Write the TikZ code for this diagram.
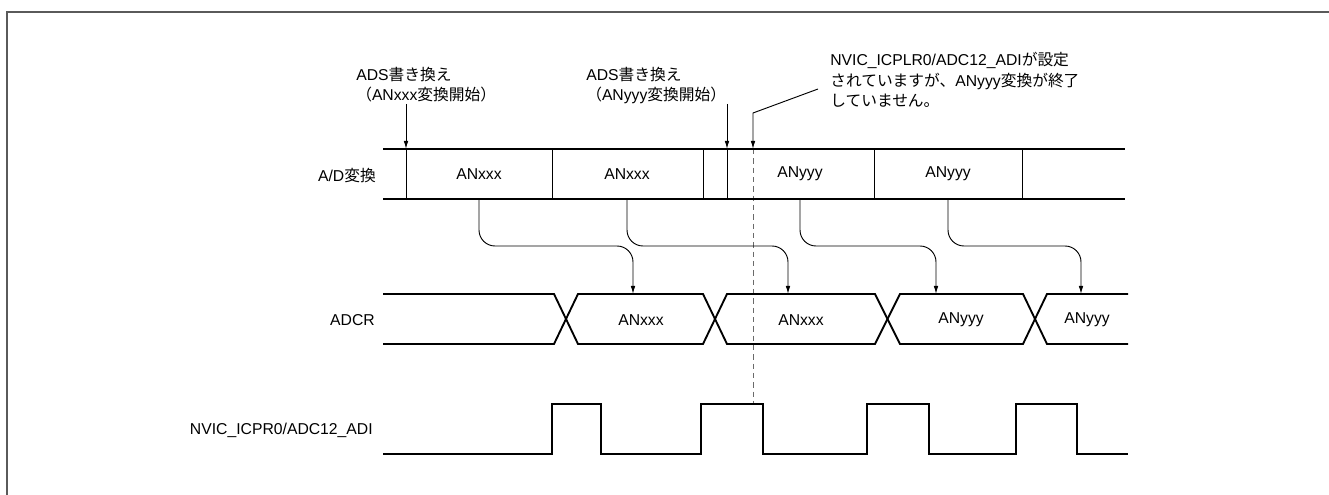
\documentclass[tikz,border=0pt]{standalone}
\usepackage{fontspec}
\setmainfont{Liberation Sans}
\newfontfamily\jpfont{Noto Sans CJK JP}
\newcommand{\jtext}[1]{{\jpfont #1}}
\usetikzlibrary{arrows.meta}
\definecolor{FrameGray}{HTML}{5A5A5A}
\definecolor{DashGray}{HTML}{6A6A6A}
\tikzset{
  row line/.style={line width=1.5pt,draw=black},
  cell sep/.style={line width=.75pt,draw=black},
  sig line/.style={line width=1.4pt,draw=black,line join=miter},
  note arrow/.style={-{Latex[length=6pt,width=3.4pt]},line width=.7pt,draw=black},
  flow arrow/.style={note arrow,rounded corners=12pt},
  mark line/.style={line width=.75pt,draw=DashGray,dash pattern=on 4pt off 3pt},
  row label/.style={anchor=east,inner sep=0pt,font=\fontsize{11.8pt}{15.4pt}\selectfont},
  cell label/.style={inner sep=0pt,font=\fontsize{11.8pt}{15.4pt}\selectfont},
  note text/.style={anchor=base west,align=left,inner sep=0pt,
    font=\fontsize{11.8pt}{15.4pt}\selectfont}
}
\begin{document}
\begin{tikzpicture}[x=.75pt,y=-.75pt]
  \useasboundingbox (0,0) rectangle (1329,495);
  % outer frame
  \draw[line width=1.5pt,draw=FrameGray] (7,495) -- (7,12) -- (1329,12);

  % row labels
  \node[row label] (lbl ad) at (376,176) {A/D\jtext{変換}};
  \node[row label] (lbl cr) at (375,320) {ADCR};
  \node[row label] (lbl nv) at (373,430) {NVIC\_ICPR0/ADC12\_ADI};

  % marker through all rows
  \coordinate (note3 tip) at (753,149);
  \coordinate (nv mark) at (753,404);
  \draw[mark line] (note3 tip) -- (nv mark);

  % A/D conversion row
  \draw[row line] (383,149) -- (1125,149);
  \draw[row line] (383,199) -- (1125,199);
  \foreach \x in {406,552,703,727,874,1022}
    \draw[cell sep] (\x,149) -- (\x,199);
  \node[cell label] (ad1) at (479,174) {ANxxx};
  \node[cell label] (ad2) at (627,174) {ANxxx};
  \node[cell label] (ad3) at (800,174) {ANyyy};
  \node[cell label] (ad4) at (948,174) {ANyyy};

  % ADCR row
  \draw[sig line] (383,294) -- (554,294) -- (578,344) -- (703,344) -- (727,294)
    -- (875,294) -- (900,344) -- (1023,344) -- (1047,294) -- (1128,294);
  \draw[sig line] (383,344) -- (554,344) -- (578,294) -- (703,294) -- (727,344)
    -- (875,344) -- (900,294) -- (1023,294) -- (1047,344) -- (1128,344);
  \node[cell label] (cr1) at (641,320) {ANxxx};
  \node[cell label] (cr2) at (801,320) {ANxxx};
  \node[cell label] (cr3) at (961,320) {ANyyy};
  \node[cell label] (cr4) at (1087,320) {ANyyy};

  % interrupt flag row
  \draw[sig line] (383,454)
    \foreach \a/\b in {552/601,701/763,867/929,1016/1077}
      { -- (\a,454) -- (\a,404) -- (\b,404) -- (\b,454) }
    -- (1128,454);

  % results moved into ADCR
  \foreach \i/\xa/\xb in {1/479/633,2/627/788,3/800/936,4/948/1081} {
    \coordinate (ad\i out) at (\xa,199);
    \coordinate (cr\i in) at (\xb,294);
    \draw[flow arrow] (ad\i out) -- ++(0,47) -| (cr\i in);
  }

  % notes (base = last line)
  \node[note text] (note1) at (356,101)
    {ADS\jtext{書き換え}\\\jtext{（}ANxxx\jtext{変換開始）}};
  \node[note text] (note2) at (586,101)
    {ADS\jtext{書き換え}\\\jtext{（}ANyyy\jtext{変換開始）}};
  \node[note text] (note3) at (830,107)
    {NVIC\_ICPLR0/ADC12\_ADI\jtext{が設定}\\
     \jtext{されていますが、}ANyyy\jtext{変換が終了}\\
     \jtext{していません。}};
  \coordinate (note1 tail) at (406,104);
  \coordinate (note1 tip) at (406,149);
  \coordinate (note2 tail) at (727,104);
  \coordinate (note2 tip) at (727,149);
  \coordinate (note3 tail) at (818,89);
  \coordinate (note3 bend) at (753,113);
  \draw[note arrow] (note1 tail) -- (note1 tip);
  \draw[note arrow] (note2 tail) -- (note2 tip);
  \draw[note arrow] (note3 tail) -- (note3 bend) -- (note3 tip);
\end{tikzpicture}
\end{document}
